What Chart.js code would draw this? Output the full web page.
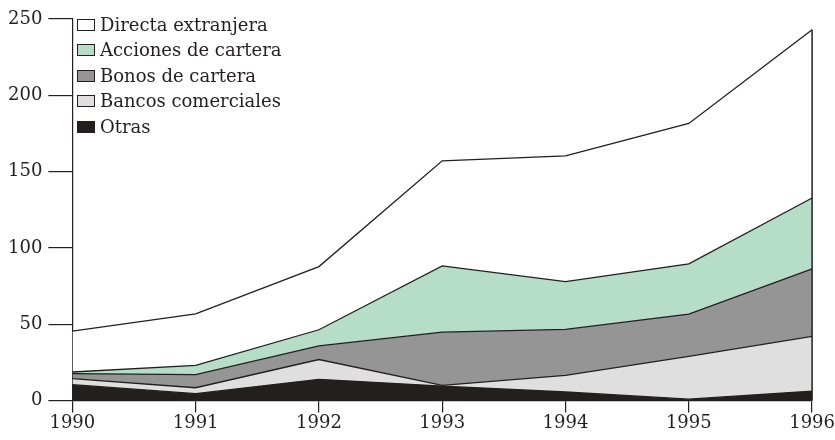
<!DOCTYPE html>
<html>
<head>
<meta charset="utf-8">
<script src="https://cdn.jsdelivr.net/npm/chart.js@4.4.1/dist/chart.umd.min.js"></script>
<style>
  body { margin: 0; background: #fff; }
  #wrap { position: relative; width: 835px; height: 440px; }
  #legend { position: absolute; left: 77px; top: 12px; font-family: "DejaVu Serif", serif; font-size: 18px; color: #231f20; }
  #legend div { height: 25.4px; line-height: 25.4px; white-space: nowrap; }
  #legend span.box { display: inline-block; width: 16px; height: 10px; border: 1px solid #231f20; margin-right: 5px; vertical-align: 0px; }
</style>
</head>
<body>
<div id="wrap">
  <canvas id="chart" width="835" height="440"></canvas>
  <div id="legend"></div>
</div>
<script>
const years = ['1990', '1991', '1992', '1993', '1994', '1995', '1996'];

// miles de millones, apiladas de abajo hacia arriba
const otras = [10.3, 4.4, 13.8, 9.4, 5.5, 0.8, 6.1];
const bancos = [4.0, 3.9, 13.0, 0.5, 10.9, 28.1, 35.9];
const bonos = [3.2, 8.6, 8.9, 34.8, 30.1, 27.7, 44.2];
const acciones = [1.1, 6.1, 10.6, 43.5, 31.3, 32.9, 46.5];
const directa = [26.8, 33.7, 41.4, 68.8, 82.5, 92.0, 110.3];

const yTicks = [0, 50, 100, 150, 200, 250];

const ink = '#231f20';
const serif = "'DejaVu Serif', serif";

function area(label, data, color, fill) {
    return {
        label: label,
        data: data,
        backgroundColor: color,
        borderColor: ink,
        borderWidth: 1.3,
        pointRadius: 0,
        tension: 0,
        fill: fill
    };
}

// vertical edge on the right side of the stack
const rightEdge = {
    id: 'rightEdge',
    afterDatasetsDraw(chart) {
        const ctx = chart.ctx;
        const metas = chart.getSortedVisibleDatasetMetas();
        const top = metas[metas.length - 1].data[years.length - 1];
        const y0 = chart.scales.y.getPixelForValue(0);
        ctx.save();
        ctx.strokeStyle = ink;
        ctx.lineWidth = 1.5;
        ctx.beginPath();
        ctx.moveTo(top.x, top.y);
        ctx.lineTo(top.x, y0);
        ctx.stroke();
        ctx.restore();
    }
};

let chart;

function setupChart() {
    const canvas = document.getElementById('chart').getContext('2d');
    chart = new Chart(canvas, {
        type: 'line',
        data: {
            labels: years,
            datasets: [
                area('Otras', otras, '#231f1e', 'origin'),
                area('Bancos comerciales', bancos, '#dfdfdf', '-1'),
                area('Bonos de cartera', bonos, '#959595', '-1'),
                area('Acciones de cartera', acciones, '#b5ddc8', '-1'),
                area('Directa extranjera', directa, '#ffffff', '-1')
            ]
        },
        options: {
            responsive: false,
            animation: false,
            layout: { padding: { top: 19, right: 6, left: 2, bottom: 6 } },
            plugins: {
                legend: { display: false },
                tooltip: { enabled: false }
            },
            scales: {
                x: {
                    offset: false,
                    grid: { drawOnChartArea: false, color: ink, tickLength: 12, lineWidth: 1.2 },
                    border: { color: ink, width: 1.2 },
                    ticks: { color: ink, font: { family: serif, size: 18 }, padding: 0, maxRotation: 0 }
                },
                y: {
                    stacked: true,
                    min: 0,
                    max: 250,
                    afterBuildTicks(scale) {
                        scale.ticks = yTicks.map(v => ({ value: v }));
                    },
                    grid: { drawOnChartArea: false, color: ink, tickLength: 24, lineWidth: 1.2 },
                    border: { color: ink, width: 1.2 },
                    ticks: { color: ink, font: { family: serif, size: 18 }, padding: 6 }
                }
            }
        },
        plugins: [rightEdge]
    });
}

function buildLegend() {
    const box = document.getElementById('legend');
    chart.data.datasets.slice().reverse().forEach(function(ds) {
        const row = document.createElement('div');
        const sw = document.createElement('span');
        sw.className = 'box';
        sw.style.background = ds.backgroundColor;
        row.appendChild(sw);
        row.appendChild(document.createTextNode(ds.label));
        box.appendChild(row);
    });
}

setupChart();
buildLegend();
</script>
</body>
</html>
